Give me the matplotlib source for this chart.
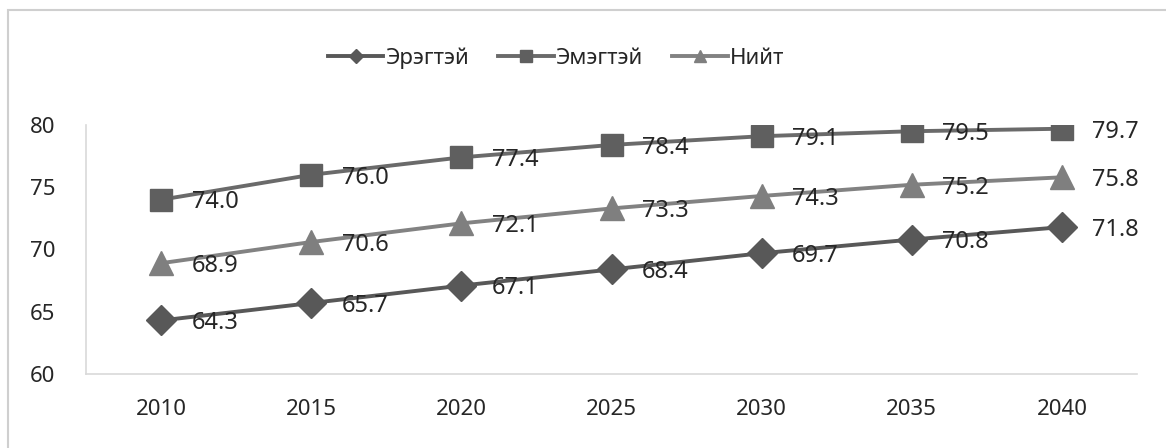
import matplotlib.pyplot as plt
from matplotlib.patches import Rectangle

years = ['2010', '2015', '2020', '2025', '2030', '2035', '2040']
male = [64.3, 65.7, 67.1, 68.4, 69.7, 70.8, 71.8]
female = [74.0, 76.0, 77.4, 78.4, 79.1, 79.5, 79.7]
total = [68.9, 70.6, 72.1, 73.3, 74.3, 75.2, 75.8]

plt.rcParams['font.family'] = ['Noto Sans', 'DejaVu Sans']

fig = plt.figure(figsize=(11.66, 4.48), dpi=100)
ax = fig.add_axes([86 / 1166, 1 - 374 / 448, (1137 - 86) / 1166, (374 - 125) / 448])

x = list(range(len(years)))
series = [
    (male, 'Эрэгтэй', 'D', '#585858', '#585858', 15),
    (female, 'Эмэгтэй', 's', '#6a6a6a', '#5f5f5f', 16),
    (total, 'Нийт', '^', '#828282', '#7f7f7f', 17),
]
for vals, name, mk, lc, mc, ms in series:
    ax.plot(x, vals, color=lc, lw=2.8, marker=mk, markersize=ms,
            markerfacecolor=mc, markeredgecolor=mc, label=name)
    for xi, v in zip(x, vals):
        ax.annotate(f'{v:.1f}', (xi, v), xytext=(22, -2), textcoords='offset points',
                    ha='left', va='center', fontsize=17, color='#262626')

ax.set_xlim(-0.5, len(years) - 0.5)
ax.set_ylim(60, 80)
ax.set_yticks([60, 65, 70, 75, 80])
ax.set_xticks(x)
ax.set_xticklabels(years)
ax.tick_params(length=0, labelsize=16, labelcolor='#262626')
ax.tick_params(axis='y', pad=22)
ax.tick_params(axis='x', pad=18)
for s in ['top', 'right']:
    ax.spines[s].set_visible(False)
for s in ['left', 'bottom']:
    ax.spines[s].set_color('#d9d9d9')
    ax.spines[s].set_linewidth(1.2)

ax.legend(loc='center', bbox_to_anchor=(556 / 1166, 1 - 58 / 448),
          bbox_transform=fig.transFigure, ncol=3, frameon=False,
          fontsize=16, handlelength=2.5, columnspacing=1.3, handletextpad=0.1,
          markerscale=0.5, labelcolor='#262626')

fig.patches.append(Rectangle((8 / 1166, -0.1), 1.1, 1 - 10 / 448 + 0.1,
                             transform=fig.transFigure, fill=False,
                             edgecolor='#cfcfcf', lw=1.5, clip_on=False))

fig.savefig('out.png', dpi=100)
